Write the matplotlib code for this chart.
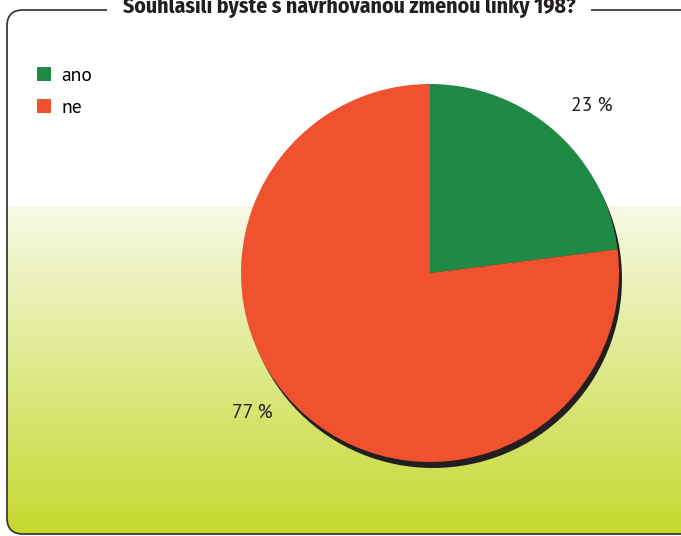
import numpy as np
import matplotlib
matplotlib.use("Agg")
from matplotlib import pyplot as plt
from matplotlib.patches import FancyBboxPatch, Circle

title = "Souhlasili byste s navrhovanou změnou linky 198?"
labels = ["ano", "ne"]
values = [23, 77]
colors = ["#1f8a45", "#f05230"]

W, H = 681, 536
title_fam = ["Fira Sans Condensed", "DejaVu Sans"]
fam = ["PT Sans", "DejaVu Sans"]

fig = plt.figure(figsize=(W / 100, H / 100), dpi=100)
ax = fig.add_axes([0, 0, 1, 1])

def py(y):
    # picture y (down) to axes y (up)
    return H - y

# background gradient inside the frame
n = 400
ys = np.linspace(0, 1, n)  # 0 = top, 1 = bottom
top = np.array([1.0, 1.0, 1.0])
start = np.array([0.97, 0.975, 0.9])
bottom = np.array([0.77, 0.85, 0.18])
grad = np.zeros((n, 1, 3))
cut = 206 / H
for i, t in enumerate(ys):
    if t < cut:
        grad[i, 0] = top
    else:
        f = (t - cut) / (1 - cut)
        grad[i, 0] = start + (bottom - start) * f
frame = FancyBboxPatch((7, py(534)), 720, 524, boxstyle="round,pad=0,rounding_size=16",
                       fc="none", ec="#3a3a3a", lw=1.3, zorder=3)
ax.add_patch(frame)
im = ax.imshow(grad, extent=[0, W, 0, H], aspect="auto", zorder=0)
im.set_clip_path(frame)

# title sitting on the frame line
ax.text(349, py(13), title, ha="center", va="baseline", fontsize=15.7, fontweight="bold",
        family=title_fam, color="#231f20", zorder=4,
        bbox=dict(fc="white", ec="none", pad=11))

# pie with shadow
cx, cy, r = 430, py(273), 189
ax.add_patch(Circle((cx + 3, cy - 6), r, fc="#231f20", ec="none", zorder=1))
wedges, texts, autotexts = ax.pie(values, colors=colors, startangle=90, counterclock=False,
                                  center=(cx, cy), radius=r, autopct="%d %%", pctdistance=1.23,
                                  wedgeprops=dict(lw=0, zorder=2),
                                  textprops=dict(fontsize=14, family=fam, color="#231f20"))
ax.set_xlim(0, W)
ax.set_ylim(0, H)
ax.set_aspect("equal")
ax.axis("off")
autotexts[0].set_position((592, py(106)))
autotexts[1].set_position((252, py(413)))

ax.legend(wedges, labels, loc="upper left", bbox_to_anchor=(37 / W, 1 - 67 / H),
          frameon=False, borderpad=0, borderaxespad=0,
          handlelength=0.72, handleheight=0.72, handletextpad=0.55,
          labelspacing=0.7, prop=dict(family=fam, size=14))

fig.savefig("out.png", dpi=100)
